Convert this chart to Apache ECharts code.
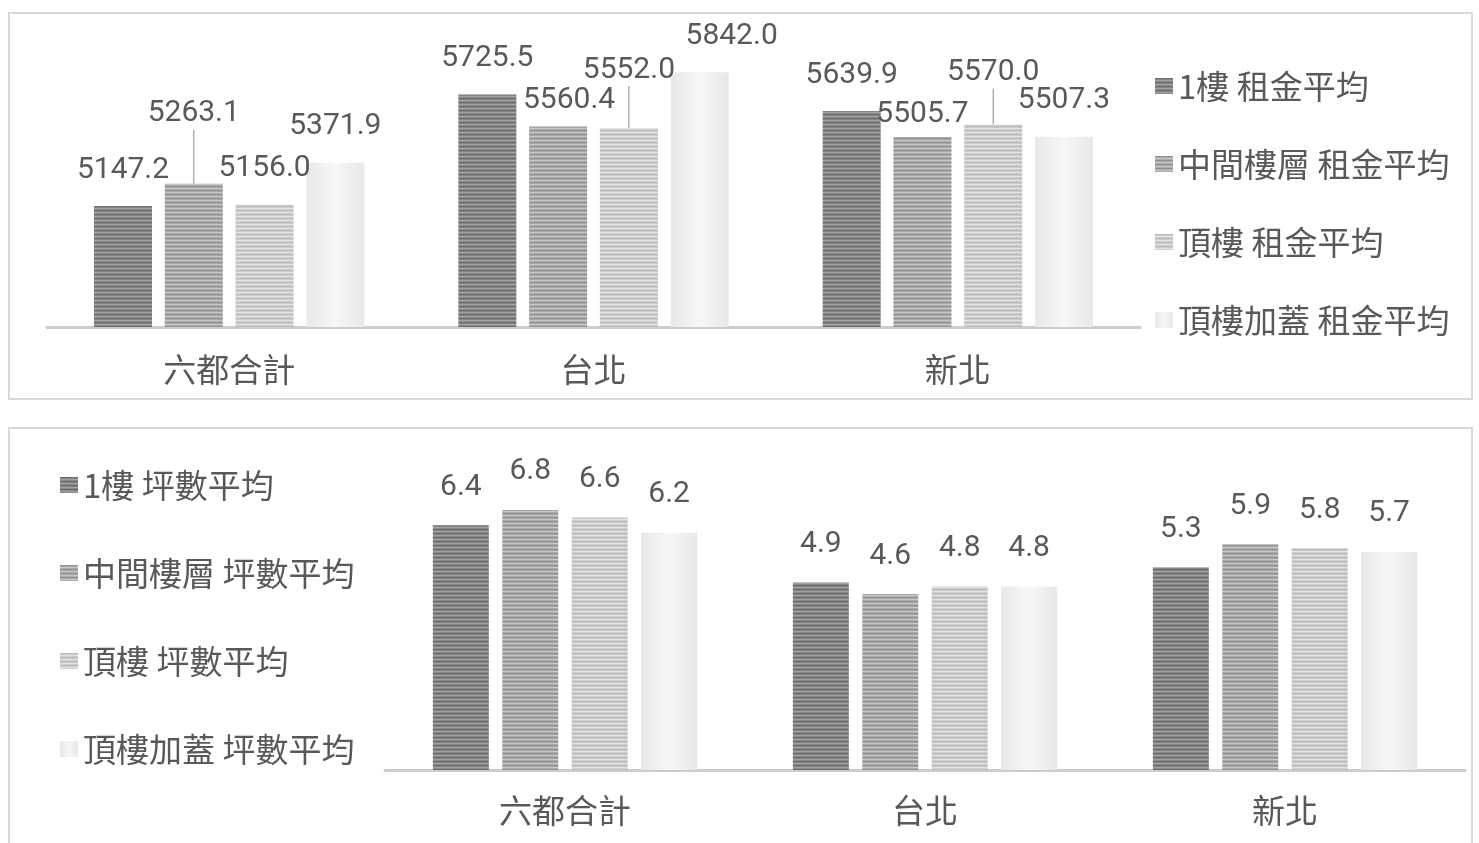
<!DOCTYPE html>
<html>
<head>
<meta charset="utf-8">
<script src="https://cdn.jsdelivr.net/npm/echarts@6/dist/echarts.min.js"></script>
<style>
  body { margin: 0; background: #fff; width: 1479px; height: 843px; overflow: hidden; position: relative; }
  .box { position: absolute; box-sizing: border-box; border: 2px solid #d9d9d9; background: #fff; }
  #rentBox { left: 8px; top: 12px; width: 1465px; height: 388px; }
  #sizeBox { left: 8px; top: 427px; width: 1465px; height: 432px; }
  #rent { width: 1461px; height: 384px; }
  #size { width: 1461px; height: 428px; }
</style>
</head>
<body>
<div class="box" id="rentBox"><div id="rent"></div></div>
<div class="box" id="sizeBox"><div id="size"></div></div>
<script>
// data
const categories = ['六都合計', '台北', '新北'];

const rentNames = ['1樓 租金平均', '中間樓層 租金平均', '頂樓 租金平均', '頂樓加蓋 租金平均'];
const rentFloor1 = [5147.2, 5725.5, 5639.9];
const rentMiddle = [5263.1, 5560.4, 5505.7];
const rentTop = [5156.0, 5552.0, 5570.0];
const rentRooftop = [5371.9, 5842.0, 5507.3];

const sizeNames = ['1樓 坪數平均', '中間樓層 坪數平均', '頂樓 坪數平均', '頂樓加蓋 坪數平均'];
const sizeFloor1 = [6.4, 4.9, 5.3];
const sizeMiddle = [6.8, 4.6, 5.9];
const sizeTop = [6.6, 4.8, 5.8];
const sizeRooftop = [6.2, 4.8, 5.7];

// styles
const textColor = '#595959';
const cjk = '"Noto Sans CJK TC", "Noto Sans CJK SC", sans-serif';
const num = 'Roboto, "Noto Sans", sans-serif';

function stripes(rows) {
  const c = document.createElement('canvas');
  c.width = 4;
  c.height = rows.length;
  const ctx = c.getContext('2d');
  rows.forEach((col, i) => {
    ctx.fillStyle = col;
    ctx.fillRect(0, i, 4, 1);
  });
  return {image: c, repeat: 'repeat'};
}

const fills = [
  stripes(['#6c6c6c', '#848484', '#a2a2a2', '#8a8a8a']),
  stripes(['#939393', '#a8a8a8', '#c6c6c6', '#adadad']),
  stripes(['#bbbbbb', '#cbcbcb', '#e2e2e2', '#cfcfcf']),
  new echarts.graphic.LinearGradient(0, 0, 1, 0, [
    {offset: 0, color: '#e8e8e8'},
    {offset: 0.5, color: '#f7f7f7'},
    {offset: 1, color: '#e8e8e8'}
  ])
];

// label nudges for the top chart (Excel moved a few labels around)
const rentNudge = [
  [[0, 0], [0, 0], [0, 0]],
  [[0, -34], [11, 10], [0, 14]],
  [[0, 0], [0, -22], [0, -16]],
  [[0, 0], [32, 0], [0, 0]]
];
const rentLeader = [
  [false, false, false],
  [true, false, false],
  [false, true, true],
  [false, false, false]
];

function legendOpt(left, top, gap) {
  return {
    orient: 'vertical',
    left: left,
    top: top,
    padding: 0,
    itemWidth: 18,
    itemHeight: 16,
    itemGap: gap,
    icon: 'rect',
    selectedMode: false,
    textStyle: {color: textColor, fontSize: 33, lineHeight: 34, fontFamily: cjk}
  };
}

function xAxisOpt(margin) {
  return {
    type: 'category',
    data: categories,
    axisTick: {show: false},
    axisLine: {lineStyle: {color: '#cccccc', width: 3}},
    axisLabel: {color: textColor, fontSize: 33, lineHeight: 33, fontFamily: cjk, margin: margin}
  };
}

// top chart
const rentChart = echarts.init(document.getElementById('rent'));
const rentValues = [rentFloor1, rentMiddle, rentTop, rentRooftop];
rentChart.setOption({
  animation: false,
  legend: legendOpt(1145, 55, 44),
  grid: {left: 37, top: 20, width: 1093, height: 293},
  xAxis: xAxisOpt(26),
  yAxis: {type: 'value', min: 4520, max: 6040, show: false, splitLine: {show: false}},
  series: rentValues.map((vals, s) => ({
    name: rentNames[s],
    type: 'bar',
    barWidth: 58,
    barGap: '22%',
    itemStyle: {color: fills[s]},
    label: {
      show: true,
      position: 'top',
      distance: 20,
      color: textColor,
      fontSize: 30,
      lineHeight: 32,
      fontFamily: num,
      formatter: p => p.value.toFixed(1)
    },
    labelLine: {show: false, lineStyle: {color: '#8c8c8c', width: 1}},
    labelLayout: p => ({dx: rentNudge[s][p.dataIndex][0], dy: rentNudge[s][p.dataIndex][1]}),
    data: vals.map((v, i) => ({value: v, labelLine: {show: rentLeader[s][i]}}))
  }))
});

// bottom chart
const sizeChart = echarts.init(document.getElementById('size'));
const sizeValues = [sizeFloor1, sizeMiddle, sizeTop, sizeRooftop];
sizeChart.setOption({
  animation: false,
  legend: legendOpt(50, 39, 54),
  grid: {left: 375, top: 35, width: 1080, height: 306},
  xAxis: xAxisOpt(24),
  yAxis: {type: 'value', min: 0, max: 8, show: false, splitLine: {show: false}},
  series: sizeValues.map((vals, s) => ({
    name: sizeNames[s],
    type: 'bar',
    barWidth: 56,
    barGap: '24%',
    itemStyle: {color: fills[s]},
    label: {
      show: true,
      position: 'top',
      distance: 22,
      color: textColor,
      fontSize: 30,
      lineHeight: 32,
      fontFamily: num,
      formatter: p => p.value.toFixed(1)
    },
    data: vals
  }))
});
</script>
</body>
</html>
